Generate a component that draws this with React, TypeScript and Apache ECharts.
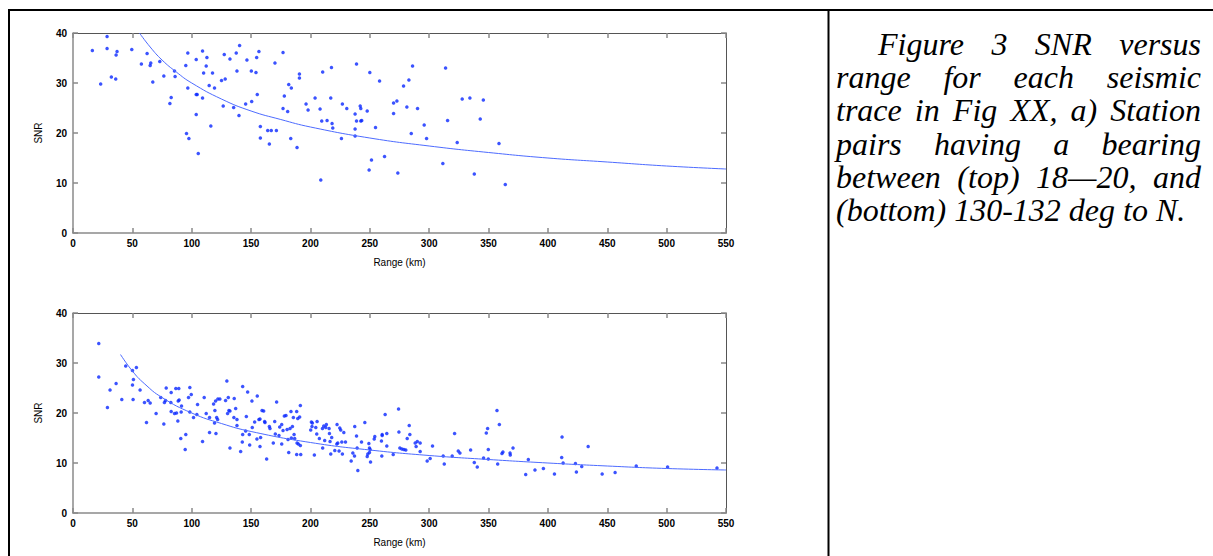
import React, { useEffect, useRef } from "react";
import * as echarts from "echarts";

// ---- Data ----
const topRange = [
  16.3, 23.3, 28.7, 28.7, 32.3, 36, 36.3, 37.1, 49.5, 57.6, 62.4, 65, 65.5, 67.2, 73.1, 76.5, 81.6, 82.7, 85.5, 86,
  95, 95.6, 96.7, 96.7, 97.6, 103.8, 103.8, 104.6, 103.8, 105.5, 109.1, 109.1, 110, 112.2, 112.8, 114.7, 116.1, 117.5, 119.2, 125.1,
  126.5, 127.4, 128.2, 132.2, 135.3, 137.5, 138.1, 139.8, 140.3, 145.4, 146.5, 150.2, 150.5, 154.1, 154.7, 155.2, 156.6, 157.8, 157.8, 164,
  165.4, 167, 170.1, 171.3, 176.9, 176.9, 178, 180.8, 181.7, 183.4, 183.9, 188.7, 190.7, 190.7, 196.3, 198, 203.9, 208.1, 208.7, 209.5,
  210.3, 214, 217.1, 217.7, 218.2, 218.8, 226.1, 226.9, 230.6, 237.6, 237.6, 237.6, 238.8, 238.8, 241.9, 242.4, 242.4, 243.2, 247.8, 249.4,
  250, 251.4, 254.8, 258.2, 262.4, 270, 270, 272.8, 273.6, 278.4, 281.2, 282.9, 284.9, 286, 290.2, 295.8, 297.8, 313.8, 315.5, 311.5,
  323.6, 327.8, 334.3, 345.6, 343, 338, 358.8, 364.1,
];
const topSnr = [
  36.5, 29.8, 39.3, 36.9, 31.2, 30.8, 35.6, 36.3, 36.7, 33.8, 35.9, 33.5, 34.0, 30.2, 34.3, 31.4, 25.9, 27.1, 32.4, 31.3,
  33.5, 19.9, 36.0, 29.0, 18.9, 34.7, 27.7, 27.7, 23.7, 15.9, 36.4, 27.0, 32.0, 33.4, 35.1, 29.5, 21.4, 32.0, 29.0, 30.5,
  25.4, 35.7, 30.8, 34.8, 25.1, 36.0, 32.4, 23.5, 37.5, 25.8, 34.6, 32.4, 26.3, 32.1, 35.1, 27.7, 36.3, 21.3, 19.0, 20.5,
  17.8, 20.5, 34.0, 20.5, 36.1, 24.9, 27.4, 24.3, 29.7, 18.9, 29.0, 17.1, 31.8, 31.0, 25.8, 24.6, 27.0, 24.8, 10.6, 22.4,
  32.2, 22.5, 27.0, 33.1, 21.9, 21.0, 18.9, 25.8, 24.9, 23.8, 20.8, 19.4, 33.8, 22.4, 25.4, 24.9, 22.4, 22.5, 24.4, 12.6,
  32.1, 14.6, 21.1, 30.4, 15.3, 26.0, 23.9, 26.4, 12.0, 29.4, 25.2, 30.6, 19.9, 33.4, 24.9, 21.6, 18.9, 33.0, 22.5, 13.9,
  18.1, 26.8, 27.0, 26.6, 22.8, 11.8, 17.9, 9.7,
];

const botRange = [
  21.7, 21.7, 29, 31.2, 36.3, 41.1, 44.4, 50.1, 50.1, 50.9, 50.6, 53.4, 56.5, 60.2, 61.9, 63.3, 65, 70, 73.9, 76.5,
  77, 77.9, 78.5, 82.4, 82.7, 82.7, 85.5, 86.6, 87.2, 88.6, 89.1, 88.3, 89.4, 90.8, 91.4, 91.1, 95, 94.5, 97.3, 98.4,
  99.6, 98.4, 101.5, 104.3, 104.9, 109.1, 110.5, 112.2, 115, 115, 118.4, 119.2, 119.5, 120.1, 120.4, 121, 121.8, 122, 123.7, 128.5,
  129.6, 130.2, 130.8, 131.3, 132.2, 132.2, 135.8, 135.5, 137, 138.1, 138.1, 141.2, 142.6, 142.9, 142.9, 145.4, 146, 147.1, 148.5, 148.8,
  150.7, 151, 153, 155.2, 154.9, 156.6, 157.5, 157.5, 158, 159.2, 160.6, 161.4, 161.7, 163.1, 165.4, 165.9, 168.7, 169.9, 170.4, 171.5,
  173.5, 174.1, 175.8, 175.8, 176.9, 178, 179.4, 180.3, 181.1, 181.7, 182.8, 183.6, 183.9, 184.8, 185.6, 186.2, 186.7, 188.4, 188.7, 188.4,
  189.3, 189.8, 190.9, 191.5, 191.8, 191.5, 200.2, 200.8, 201.6, 201.3, 203.3, 204.5, 205.3, 205.6, 207.5, 210.1, 210.3, 211.2, 212, 212.9,
  213.4, 215.7, 216, 216.5, 217.1, 217.9, 220.5, 222.2, 222.4, 223, 224.1, 224.7, 225.5, 226.4, 226.9, 228.1, 229.5, 234.3, 235.7, 237.1,
  237.3, 238.8, 239.3, 239.9, 243, 245.8, 247.8, 248.3, 249.2, 249.7, 249.7, 250.3, 250.6, 253.7, 254.2, 259.8, 260.4, 260.1, 260.4, 262.9,
  264.3, 264.3, 269.7, 274.2, 274.5, 275.3, 277, 278.7, 280.3, 281.5, 283.2, 283.7, 288.2, 289, 290, 292.4, 292.4, 298.3, 300.8, 302.8,
  311.8, 312.7, 319.4, 321.4, 324.5, 325.9, 334.9, 338, 340.5, 345.8, 348.1, 349.2, 349.8, 349.8, 357.1, 357.7, 359.1, 361.3, 362.1, 368.1,
  368.3, 370.6, 381.3, 383.5, 389.1, 396.2, 405.5, 411.6, 411.9, 412.8, 423.2, 424, 428.5, 433.9, 445.7, 456.6, 474.4, 500.8, 542.4,
];
const botSnr = [
  33.9, 27.2, 21.1, 24.6, 25.9, 22.7, 29.4, 28.5, 25.6, 26.7, 22.7, 29.1, 24.6, 22.1, 18.1, 22.5, 22.0, 19.9, 23.1, 17.8,
  22.1, 22.5, 25.0, 22.1, 24.1, 20.3, 19.9, 24.9, 20.0, 22.4, 24.9, 18.4, 22.6, 14.9, 21.4, 20.2, 15.7, 12.7, 23.1, 25.1,
  23.7, 20.2, 19.1, 19.7, 21.7, 14.3, 23.1, 19.9, 16.1, 19.1, 21.8, 18.0, 20.5, 22.4, 15.9, 19.1, 18.7, 22.8, 22.8, 22.5,
  26.4, 19.9, 23.1, 20.5, 13.0, 20.4, 22.9, 19.1, 20.9, 17.5, 18.7, 12.3, 14.2, 15.7, 25.3, 16.4, 19.3, 24.2, 15.7, 13.6,
  22.4, 17.1, 18.2, 23.4, 14.8, 18.7, 18.8, 13.3, 15.1, 20.5, 20.4, 18.3, 18.1, 10.8, 17.3, 16.9, 14.0, 18.3, 15.8, 22.2,
  15.5, 17.2, 13.8, 17.7, 16.5, 19.4, 19.5, 16.7, 14.7, 12.1, 16.9, 20.3, 15.0, 17.3, 19.1, 15.7, 14.9, 20.3, 14.0, 11.7,
  18.9, 13.8, 19.2, 21.5, 11.7, 13.5, 16.6, 18.2, 18.0, 17.3, 11.6, 17.1, 15.8, 18.3, 14.9, 16.9, 13.0, 17.4, 14.5, 17.1,
  17.7, 16.9, 15.9, 14.3, 11.8, 15.1, 12.5, 13.8, 17.7, 14.0, 12.4, 17.0, 16.6, 14.2, 11.8, 16.1, 14.2, 10.4, 12.0, 11.4,
  17.3, 15.4, 13.0, 8.5, 14.2, 18.1, 11.3, 11.8, 13.9, 13.0, 12.1, 12.7, 10.2, 14.8, 15.3, 14.4, 15.7, 11.4, 15.5, 19.7,
  13.4, 15.9, 11.7, 20.8, 16.2, 13.0, 12.8, 12.7, 12.6, 14.9, 17.5, 15.7, 14.0, 13.3, 14.3, 14.0, 12.3, 10.4, 10.9, 13.4,
  11.4, 9.8, 11.4, 15.9, 12.4, 12.0, 12.6, 10.1, 9.2, 11.0, 16.0, 16.9, 12.7, 10.8, 20.5, 9.8, 17.7, 11.9, 12.2, 12.0,
  11.6, 13.0, 7.7, 10.7, 8.6, 8.9, 7.8, 11.1, 15.2, 10.0, 9.9, 8.2, 9.3, 13.3, 7.8, 8.1, 9.4, 9.2, 9.0,
];

// fitted curves
const topFitRange = [56, 65, 75, 87, 100, 125, 150, 175, 200, 250, 300, 350, 400, 450, 500, 550];
const topFitSnr = [40, 37.2, 34.6, 32.2, 30.0, 26.8, 24.4, 22.7, 21.2, 19.0, 17.4, 16.1, 15.0, 14.2, 13.4, 12.8];
const botFitRange = [40, 50, 60, 75, 100, 125, 150, 200, 250, 300, 350, 400, 450, 500, 550];
const botFitSnr = [31.7, 28.4, 25.9, 23.1, 20.0, 17.9, 16.3, 14.1, 12.6, 11.5, 10.7, 10.0, 9.4, 8.9, 8.6];

const xTickLabels = ["0", "50", "100", "150", "200", "250", "300", "350", "400", "450", "500", "550"];
const yTickLabels = ["0", "10", "20", "30", "40"];

const captionLines: { words: string[]; x0: number; justify: boolean }[] = [
  { words: ["Figure", "3", "SNR", "versus"], x0: 878, justify: true },
  { words: ["range", "for", "each", "seismic"], x0: 836, justify: true },
  { words: ["trace", "in", "Fig", "XX,", "a)", "Station"], x0: 836, justify: true },
  { words: ["pairs", "having", "a", "bearing"], x0: 836, justify: true },
  { words: ["between", "(top)", "18\u201420,", "and"], x0: 836, justify: true },
  { words: ["(bottom)", "130-132", "deg", "to", "N."], x0: 836, justify: false },
];

const zip = (a: number[], b: number[]) => a.map((v, i) => [v, b[i]]);

const LABEL_FONT = "'Liberation Sans', Arial, Helvetica, sans-serif";
const CAPTION_FONT = "italic 32px 'Liberation Serif', 'Times New Roman', serif";

function axesFor(gi: number) {
  const label = { color: "#000", fontSize: 10, fontWeight: "bold" as const, fontFamily: LABEL_FONT };
  const xMain = {
    gridIndex: gi, type: "value", min: 0, max: 550, interval: 50, position: "bottom",
    axisLine: { show: true, onZero: false, lineStyle: { color: "#8a8a8a", width: 1.5 } },
    axisTick: { show: true, inside: true, length: 5, lineStyle: { color: "#8a8a8a", width: 1.5 } },
    axisLabel: { ...label, margin: 5, formatter: (v: number) => xTickLabels[Math.round(v / 50)] ?? "" },
    splitLine: { show: false },
    name: "Range (km)", nameLocation: "middle", nameGap: 24,
    nameTextStyle: { color: "#000", fontSize: 10, fontFamily: LABEL_FONT },
  };
  const xTop = {
    gridIndex: gi, type: "value", min: 0, max: 550, interval: 50, position: "top",
    axisLine: { show: true, onZero: false, lineStyle: { color: "#555", width: 1 } },
    axisTick: { show: true, inside: true, length: 5, lineStyle: { color: "#8a8a8a", width: 1.5 } },
    axisLabel: { show: false }, splitLine: { show: false },
  };
  const yMain = {
    gridIndex: gi, type: "value", min: 0, max: 40, interval: 10, position: "left",
    axisLine: { show: true, onZero: false, lineStyle: { color: "#8a8a8a", width: 1.5 } },
    axisTick: { show: true, inside: true, length: 5, lineStyle: { color: "#8a8a8a", width: 1.5 } },
    axisLabel: { ...label, margin: 6, formatter: (v: number) => yTickLabels[Math.round(v / 10)] ?? "" },
    splitLine: { show: false },
    name: "SNR", nameLocation: "middle", nameGap: 30, nameRotate: 90,
    nameTextStyle: { color: "#000", fontSize: 10, fontFamily: LABEL_FONT },
  };
  const yRight = {
    gridIndex: gi, type: "value", min: 0, max: 40, interval: 10, position: "right",
    axisLine: { show: true, onZero: false, lineStyle: { color: "#555", width: 1 } },
    axisTick: { show: true, inside: true, length: 5, lineStyle: { color: "#8a8a8a", width: 1.5 } },
    axisLabel: { show: false }, splitLine: { show: false },
  };
  return { x: [xMain, xTop], y: [yMain, yRight] };
}

function buildCaption(): any[] {
  const canvas = document.createElement("canvas");
  const ctx = canvas.getContext("2d")!;
  ctx.font = CAPTION_FONT;
  const right = 1201;
  const firstY = 44;
  const step = 33.2;
  const els: any[] = [];
  captionLines.forEach((line, li) => {
    const y = firstY + li * step;
    const widths = line.words.map((w) => ctx.measureText(w).width);
    const total = widths.reduce((s, w) => s + w, 0);
    const space = ctx.measureText(" ").width;
    const gap = line.justify && line.words.length > 1
      ? (right - line.x0 - total) / (line.words.length - 1)
      : space;
    let x = line.x0;
    line.words.forEach((w, wi) => {
      els.push({
        type: "text", x, y,
        style: { text: w, font: CAPTION_FONT, fill: "#000", textAlign: "left", textVerticalAlign: "middle" },
      });
      x += widths[wi] + gap;
    });
  });
  return els;
}

export default function App() {
  const ref = useRef<HTMLDivElement>(null);
  useEffect(() => {
    if (!ref.current) return;
    const chart = echarts.init(ref.current, null, { renderer: "svg" });
    const a0 = axesFor(0);
    const a1 = axesFor(1);
    const scatterStyle = { color: "#0a28ff" };
    const lineStyle = { color: "#4d6bff", width: 1 };
    chart.setOption({
      animation: false,
      backgroundColor: "#fff",
      grid: [
        { left: 73, top: 33, width: 653, height: 200 },
        { left: 73, top: 313, width: 653, height: 200 },
      ],
      xAxis: [...a0.x, ...a1.x],
      yAxis: [...a0.y, ...a1.y],
      series: [
        { type: "scatter", xAxisIndex: 0, yAxisIndex: 0, data: zip(topRange, topSnr), symbol: "circle", symbolSize: 3.5, itemStyle: scatterStyle },
        { type: "line", xAxisIndex: 0, yAxisIndex: 0, data: zip(topFitRange, topFitSnr), smooth: true, showSymbol: false, symbol: "none", lineStyle },
        { type: "scatter", xAxisIndex: 2, yAxisIndex: 2, data: zip(botRange, botSnr), symbol: "circle", symbolSize: 3.5, itemStyle: scatterStyle },
        { type: "line", xAxisIndex: 2, yAxisIndex: 2, data: zip(botFitRange, botFitSnr), smooth: true, showSymbol: false, symbol: "none", lineStyle },
      ],
      graphic: [
        { type: "line", shape: { x1: 8, y1: 10, x2: 1213, y2: 10 }, style: { stroke: "#000", lineWidth: 2 } },
        { type: "line", shape: { x1: 9, y1: 9, x2: 9, y2: 556 }, style: { stroke: "#000", lineWidth: 2 } },
        { type: "line", shape: { x1: 828.5, y1: 9, x2: 828.5, y2: 556 }, style: { stroke: "#000", lineWidth: 2 } },
        ...buildCaption(),
      ],
    });
    return () => chart.dispose();
  }, []);
  return <div ref={ref} style={{ position: "absolute", left: 0, top: 0, width: 1213, height: 556 }} />;
}
